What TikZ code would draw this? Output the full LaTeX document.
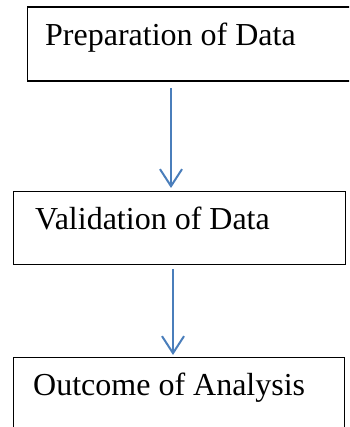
\documentclass[tikz,border=0pt]{standalone}
\usepackage{fontspec}
\setmainfont{Liberation Serif}
\usetikzlibrary{arrows.meta}
\definecolor{arrowblue}{RGB}{74,126,187}
\begin{document}
\begin{tikzpicture}[x=1pt,y=-1pt,
  box/.style={draw=black, line width=1.2pt, rectangle, anchor=north west, inner sep=0pt},
  lbl/.style={anchor=base west, inner sep=0pt, font=\fontsize{32}{38}\selectfont},
  arr/.style={draw=arrowblue, line width=2pt, -{Straight Barb[length=17pt,width=22pt,line width=2pt]}}]
\useasboundingbox (0,0) rectangle (349,427);
\clip (0,0) rectangle (349,427);
% boxes
\node[box, minimum width=330pt, minimum height=74pt] (prep) at (27,6.5) {};
\node[box, minimum width=332pt, minimum height=73pt] (valid) at (13,191) {};
\node[box, minimum width=331pt, minimum height=90pt] (outc) at (13,357) {};
% texts
\node[lbl] (prept) at (45,46) {Preparation of Data};
\node[lbl] (validt) at (35,229) {Validation of Data};
\node[lbl] (outct) at (33,395) {Outcome of Analysis};
% arrow columns
\coordinate (c1) at (171,0);
\coordinate (c2) at (173,0);
\draw[arr, shorten <=6.5pt, shorten >=3pt] (prep.south -| c1) -- (valid.north -| c1);
\draw[arr, shorten <=4pt, shorten >=2pt] (valid.south -| c2) -- (outc.north -| c2);
\end{tikzpicture}
\end{document}
